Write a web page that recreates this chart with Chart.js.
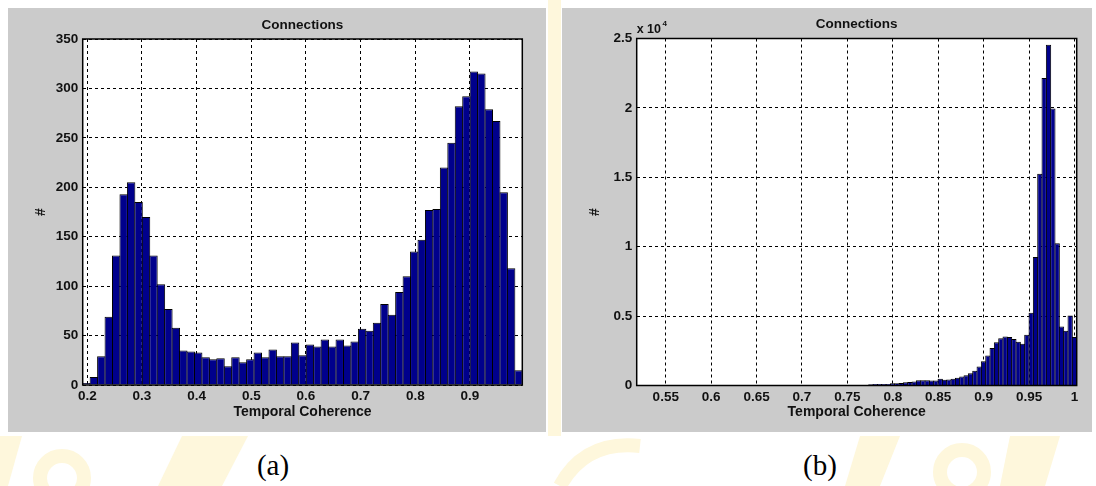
<!DOCTYPE html>
<html>
<head>
<meta charset="utf-8">
<script src="https://cdn.jsdelivr.net/npm/chart.js@4.4.1/dist/chart.umd.min.js"></script>
<style>
  html, body { margin: 0; padding: 0; background: #ffffff; width: 1096px; height: 486px; overflow: hidden; }
  #wm { position: absolute; left: 0; top: 0; }
  .panel { position: absolute; top: 8px; height: 424px; background: #cbcbcb; }
  #pa { left: 8px; width: 538px; }
  #pb { left: 562px; width: 530px; }
  .panel canvas { display: block; }
  .cap { position: absolute; top: 451px; font-family: "Liberation Serif", "Times New Roman", serif;
         font-size: 29px; color: #000; transform: translateX(-50%); line-height: 1; }
</style>
</head>
<body>
<svg id="wm" width="1096" height="486">
  <g fill="none" stroke="#fef7dc" stroke-width="14">
    <circle cx="62" cy="478" r="22"/>
    <circle cx="962" cy="472" r="22"/>
    <path d="M560 486 Q585 440 640 446"/>
  </g>
  <g fill="#fef7dc">
    <polygon points="182,436 248,436 222,486 158,486"/>
    <polygon points="0,436 22,436 8,486 0,486"/>
    <rect x="548" y="0" width="13" height="436"/>
    <polygon points="860,436 900,436 880,486 845,486"/>
    <polygon points="1010,436 1060,436 1045,486 1000,486"/>
  </g>
</svg>

<div class="panel" id="pa"><canvas id="ca" width="538" height="424"></canvas></div>
<div class="panel" id="pb"><canvas id="cb" width="530" height="424"></canvas></div>
<div class="cap" style="left:273px">(a)</div>
<div class="cap" style="left:820px">(b)</div>

<script>
// ---- shared labels ----
const titleText = 'Connections';
const xAxisLabel = 'Temporal Coherence';
const yAxisLabel = '#';

// ---- histogram (a): 59 bins of temporal coherence ----
const binCentersA = [
  0.19841, 0.21204, 0.22567, 0.23930, 0.25293, 0.26656, 0.28019, 0.29382, 0.30744, 0.32107,
  0.33470, 0.34833, 0.36196, 0.37559, 0.38922, 0.40285, 0.41648, 0.43011, 0.44374, 0.45737,
  0.47100, 0.48462, 0.49825, 0.51188, 0.52551, 0.53914, 0.55277, 0.56640, 0.58003, 0.59366,
  0.60729, 0.62092, 0.63455, 0.64818, 0.66180, 0.67543, 0.68906, 0.70269, 0.71632, 0.72995,
  0.74358, 0.75721, 0.77084, 0.78447, 0.79810, 0.81173, 0.82536, 0.83898, 0.85261, 0.86624,
  0.87987, 0.89350, 0.90713, 0.92076, 0.93439, 0.94802, 0.96165, 0.97528, 0.98891
];
const countsA = [
  2, 8, 29, 69, 131, 193, 205, 185, 170, 131,
  102, 77, 58, 35, 34, 33, 28, 26, 27, 19,
  28, 23, 26, 33, 28, 36, 29, 29, 43, 30,
  41, 39, 46, 39, 46, 40, 44, 57, 55, 63,
  82, 71, 94, 110, 135, 147, 177, 178, 220, 245,
  282, 292, 317, 315, 279, 267, 195, 118, 15
];
const xRangeA = [0.1916, 0.9957];
const xTicksA = [0.2, 0.3, 0.4, 0.5, 0.6, 0.7, 0.8, 0.9];
const yTicksA = [0, 50, 100, 150, 200, 250, 300, 350];

// ---- histogram (b): non-empty bins from 0.77 upward ----
const binCentersB = [
  0.77590, 0.78067, 0.78544, 0.79021, 0.79498, 0.79975, 0.80452, 0.80929, 0.81406, 0.81883,
  0.82360, 0.82837, 0.83314, 0.83791, 0.84268, 0.84745, 0.85222, 0.85699, 0.86176, 0.86653,
  0.87130, 0.87607, 0.88084, 0.88561, 0.89038, 0.89515, 0.89992, 0.90469, 0.90946, 0.91423,
  0.91900, 0.92377, 0.92854, 0.93331, 0.93808, 0.94285, 0.94762, 0.95239, 0.95716, 0.96193,
  0.96670, 0.97147, 0.97624, 0.98101, 0.98578, 0.99055, 0.99532, 1.00009
];
const countsB = [
  90, 100, 100, 100, 110, 160, 170, 180, 240, 260,
  280, 380, 380, 370, 360, 360, 480, 420, 440, 480,
  550, 640, 740, 880, 1070, 1360, 1750, 2160, 2710, 3120,
  3410, 3530, 3500, 3350, 3150, 3000, 3650, 5250, 9250, 15250,
  22150, 24550, 19950, 10250, 4250, 3950, 5050, 3500
];
const xRangeB = [0.518, 1.0025];
const xTicksB = [0.55, 0.6, 0.65, 0.7, 0.75, 0.8, 0.85, 0.9, 0.95, 1];
const yTicksB = [0, 5000, 10000, 15000, 20000, 25000];
const yExponentB = 4;

// ---- drawing helpers ----
const FONT = '"Liberation Sans", Arial, Helvetica, sans-serif';
const barFill = '#00008c';

// white plot box underneath, frame / title / exponent note on top
const framePlugin = {
  id: 'frame',
  beforeDraw(chart) {
    const { ctx, chartArea: a } = chart;
    ctx.save();
    ctx.fillStyle = '#ffffff';
    ctx.fillRect(a.left, a.top, a.right - a.left, a.bottom - a.top);
    ctx.restore();
  },
  afterDraw(chart, args, opts) {
    const { ctx, chartArea: a } = chart;
    ctx.save();
    ctx.strokeStyle = '#000';
    ctx.lineWidth = 1.5;
    ctx.strokeRect(a.left, a.top, a.right - a.left, a.bottom - a.top);
    ctx.fillStyle = '#111';
    ctx.font = 'bold 13.5px ' + FONT;
    ctx.textAlign = 'center';
    ctx.textBaseline = 'middle';
    ctx.fillText(opts.title, (a.left + a.right) / 2, a.top - 14);
    if (opts.exponent) {
      ctx.textAlign = 'left';
      ctx.font = 'bold 12.5px ' + FONT;
      const base = 'x 10';
      ctx.fillText(base, a.left, a.top - 9);
      const w = ctx.measureText(base).width;
      ctx.font = 'bold 8px ' + FONT;
      ctx.fillText(String(opts.exponent), a.left + w + 1.5, a.top - 15);
    }
    ctx.restore();
  }
};

function makeHistogram(id, centers, counts, cfg) {
  const tickFont = { family: FONT, size: 13.5, weight: 'bold' };
  const labelFont = { family: FONT, size: 14, weight: 'bold' };
  return new Chart(document.getElementById(id), {
    type: 'bar',
    data: {
      datasets: [{
        data: centers.map((c, i) => ({ x: c, y: counts[i] })),
        backgroundColor: barFill,
        borderColor: '#000',
        borderWidth: 1,
        barPercentage: cfg.barPct,
        categoryPercentage: 1,
        grouped: false
      }]
    },
    plugins: [framePlugin],
    options: {
      responsive: false,
      animation: false,
      events: [],
      layout: { padding: { left: 0, top: cfg.top, right: cfg.right, bottom: 0 } },
      plugins: {
        legend: { display: false },
        tooltip: { enabled: false },
        title: { display: false },
        frame: { title: titleText, exponent: cfg.exponent }
      },
      scales: {
        x: {
          type: 'linear',
          min: cfg.xRange[0],
          max: cfg.xRange[1],
          offset: false,
          z: 1,
          afterBuildTicks: s => { s.ticks = cfg.xTicks.map(v => ({ value: v })); },
          afterFit: s => { s.height = cfg.xHeight; },
          grid: { offset: false, color: '#000', lineWidth: 1, drawTicks: false },
          border: { display: false, dash: [3, 3] },
          ticks: {
            color: '#111', font: tickFont, padding: 3.5, maxRotation: 0, autoSkip: false,
            callback: v => String(+Number(v).toFixed(2))
          },
          title: {
            display: true, text: xAxisLabel, color: '#111', font: labelFont,
            padding: { top: 0, bottom: 11.5 }
          }
        },
        y: {
          type: 'linear',
          min: 0,
          max: cfg.yTicks[cfg.yTicks.length - 1],
          z: 1,
          afterBuildTicks: s => { s.ticks = cfg.yTicks.map(v => ({ value: v })); },
          afterFit: s => { s.width = cfg.yWidth; },
          grid: { color: '#000', lineWidth: 1, drawTicks: false },
          border: { display: false, dash: [3, 3] },
          ticks: {
            color: '#111', font: tickFont, padding: 4.5, autoSkip: false,
            callback: v => cfg.exponent ? String(+(v / Math.pow(10, cfg.exponent)).toFixed(2)) : String(v)
          },
          title: {
            display: true, text: yAxisLabel, color: '#111', font: labelFont,
            padding: { top: 25, bottom: 0 }
          }
        }
      }
    }
  });
}

makeHistogram('ca', binCentersA, countsA, {
  xRange: xRangeA, xTicks: xTicksA, yTicks: yTicksA,
  top: 31, right: 23.7, xHeight: 47, yWidth: 74.7, barPct: 1.134
});

makeHistogram('cb', binCentersB, countsB, {
  xRange: xRangeB, xTicks: xTicksB, yTicks: yTicksB, exponent: yExponentB,
  top: 30.5, right: 15.3, xHeight: 46.5, yWidth: 74.7, barPct: 1.23
});
</script>
</body>
</html>
